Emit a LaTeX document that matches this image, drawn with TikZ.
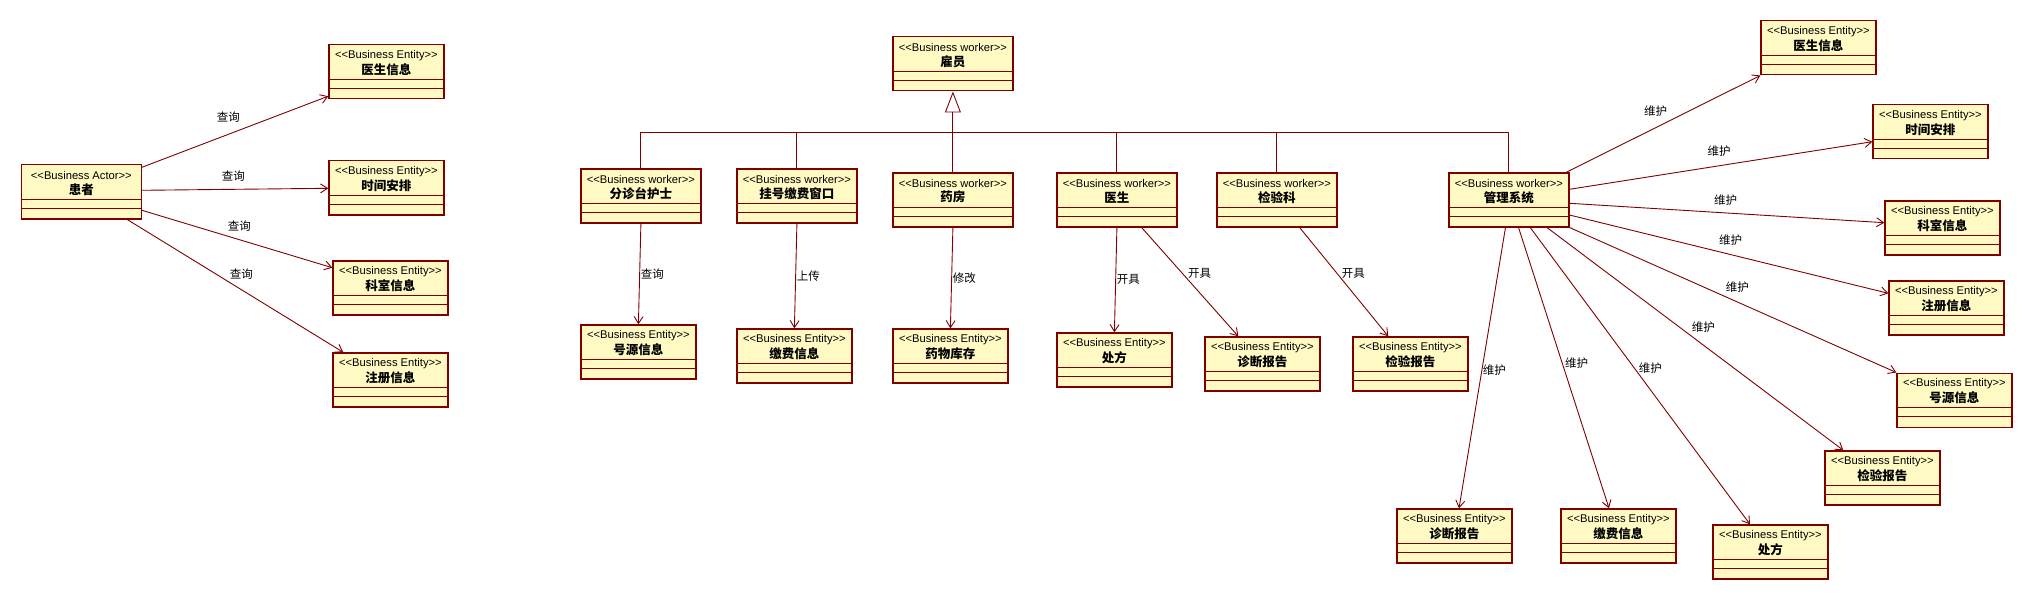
\documentclass[tikz,border=0pt]{standalone}
\usepackage{fontspec}
\setmainfont{Liberation Sans}
\newfontfamily\cjk{Noto Sans CJK SC}
\usetikzlibrary{arrows.meta}
\definecolor{lc}{RGB}{128,0,0}
\definecolor{fc}{RGB}{255,250,195}
\tikzset{
  umlbox/.style={draw=lc, fill=fc, line width=1.2pt, minimum height=54pt, inner sep=0pt, anchor=north west},
  stereo/.style={font=\fontsize{11.2}{12}\selectfont, inner sep=0pt},
  nm/.style={font=\cjk\bfseries\fontsize{12.5}{14}\selectfont, inner sep=0pt},
  lab/.style={font=\cjk\fontsize{11.5}{13}\selectfont, inner sep=0pt},
  conn/.style={draw=lc, line width=0.9pt, -{Straight Barb[length=7pt,width=9pt]}},
  gen/.style={draw=lc, line width=0.9pt, -{Triangle[open,length=21pt,width=16pt]}},
  busline/.style={draw=lc, line width=0.9pt},
}
\newcommand\mkbox[6]{%
  \node[umlbox, minimum width=#4pt] (#1) at (#2,#3) {};
  \draw[lc, line width=1.2pt] ([yshift=-35pt]#1.north west) -- ([yshift=-35pt]#1.north east)
       ([yshift=-44pt]#1.north west) -- ([yshift=-44pt]#1.north east);
  \node[stereo] (#1s) at ([yshift=-11.4pt]#1.north) {<{}<Business\hspace{3pt}#5>{}>};
  \node[nm] (#1n) at ([yshift=-25pt]#1.north) {#6};
}
\begin{document}
\begin{tikzpicture}[x=1pt,y=-1pt]
\fill[white] (0,0) rectangle (2032,599);
\useasboundingbox (0,0) rectangle (2032,599);
\coordinate (bus) at (0,132.3);
% left part
\mkbox{pa}{20.7}{164.3}{120}{Actor}{患者}
\mkbox{le1}{328.3}{44.3}{115}{Entity}{医生信息}
\mkbox{le2}{328.3}{160.3}{115}{Entity}{时间安排}
\mkbox{le3}{332.3}{260.3}{115}{Entity}{科室信息}
\mkbox{le4}{332.3}{352.3}{115}{Entity}{注册信息}
% middle workers
\mkbox{w0}{892.3}{36.3}{120}{worker}{雇员}
\mkbox{w1}{580.3}{168.3}{120}{worker}{分诊台护士}
\mkbox{w2}{736.3}{168.3}{120}{worker}{挂号缴费窗口}
\mkbox{w3}{892.3}{172.3}{120}{worker}{药房}
\mkbox{w4}{1056.3}{172.3}{120}{worker}{医生}
\mkbox{w5}{1216.3}{172.3}{120}{worker}{检验科}
\mkbox{ms}{1448.3}{172.3}{120}{worker}{管理系统}
% middle entities
\mkbox{m1}{580.3}{324.3}{115}{Entity}{号源信息}
\mkbox{m2}{736.3}{328.3}{115}{Entity}{缴费信息}
\mkbox{m3}{892.3}{328.3}{115}{Entity}{药物库存}
\mkbox{m4}{1056.3}{332.3}{115}{Entity}{处方}
\mkbox{m5}{1204.3}{336.3}{115}{Entity}{诊断报告}
\mkbox{m6}{1352.3}{336.3}{115}{Entity}{检验报告}
% right entities
\mkbox{r1}{1760.3}{20.3}{115}{Entity}{医生信息}
\mkbox{r2}{1872.3}{104.3}{115}{Entity}{时间安排}
\mkbox{r3}{1884.3}{200.3}{115}{Entity}{科室信息}
\mkbox{r4}{1888.3}{280.3}{115}{Entity}{注册信息}
\mkbox{r5}{1896.3}{372.5}{115}{Entity}{号源信息}
\mkbox{r6}{1824.3}{450.3}{115}{Entity}{检验报告}
\mkbox{r7}{1712.3}{524.3}{115}{Entity}{处方}
\mkbox{r8}{1560.3}{508.3}{115}{Entity}{缴费信息}
\mkbox{r9}{1396.3}{508.3}{115}{Entity}{诊断报告}
% left connectors
\draw[conn] ([yshift=-3pt]pa.north east) -- ([yshift=3.3pt]le1.south west);
\draw[conn] ([yshift=-26pt]pa.north east) -- ([yshift=-28pt]le2.north west);
\draw[conn] ([yshift=-46pt]pa.north east) -- ([yshift=-7.4pt]le3.north west);
\draw[conn] ([xshift=-14.7pt]pa.south east) -- ([xshift=11pt]le4.north west);
% generalisation bus
\draw[busline] (w1.north) -- (w1.north |- bus) -- (ms.north |- bus) -- (ms.north);
\draw[busline] (w2.north) -- (w2.north |- bus);
\draw[busline] (w4.north) -- (w4.north |- bus);
\draw[busline] (w5.north) -- (w5.north |- bus);
\draw[gen] (w3.north) -- (w0.south);
% middle connectors
\draw[conn] (w1.south) -- (m1.north);
\draw[conn] (w2.south) -- (m2.north);
\draw[conn] (w3.south) -- (m3.north);
\draw[conn] (w4.south) -- (m4.north);
\draw[conn] ([xshift=24.7pt]w4.south) -- ([xshift=-24.1pt]m5.north);
\draw[conn] ([xshift=22.7pt]w5.south) -- ([xshift=-22.1pt]m6.north);
% right connectors
\draw[conn] ([xshift=-3.3pt]ms.north east) -- (r1.south west);
\draw[conn] ([yshift=-17pt]ms.north east) -- ([yshift=-37.4pt]r2.north west);
\draw[conn] ([yshift=-31pt]ms.north east) -- ([yshift=-22.4pt]r3.north west);
\draw[conn] ([yshift=-42.7pt]ms.north east) -- ([yshift=-13pt]r4.north west);
\draw[conn] (ms.south east) -- (r5.north west);
\draw[conn] ([xshift=-22.6pt]ms.south east) -- ([xshift=19pt]r6.north west);
\draw[conn] ([xshift=-39.3pt]ms.south east) -- ([xshift=37.7pt]r7.north west);
\draw[conn] ([xshift=-51pt]ms.south east) -- ([xshift=48.7pt]r8.north west);
\draw[conn] ([xshift=-64pt]ms.south east) -- ([xshift=62.7pt]r9.north west);
% labels
\node[lab] (t1) at (228.3,117) {查询};
\node[lab] (t2) at (233.3,176) {查询};
\node[lab] (t3) at (239.3,226) {查询};
\node[lab] (t4) at (241.3,274) {查询};
\node[lab] (t5) at (652.3,274) {查询};
\node[lab] (t6) at (808.3,276) {上传};
\node[lab] (t7) at (964.3,278) {修改};
\node[lab] (t8) at (1128.3,279) {开具};
\node[lab] (t9) at (1199.7,273) {开具};
\node[lab] (t10) at (1353.3,273) {开具};
\node[lab] (t11) at (1655.7,111) {维护};
\node[lab] (t12) at (1719.2,151) {维护};
\node[lab] (t13) at (1725.7,200) {维护};
\node[lab] (t14) at (1730.7,240) {维护};
\node[lab] (t15) at (1737.3,287) {维护};
\node[lab] (t16) at (1703.3,327) {维护};
\node[lab] (t17) at (1650.3,368) {维护};
\node[lab] (t18) at (1576.7,363) {维护};
\node[lab] (t19) at (1494.3,370) {维护};
\end{tikzpicture}
\end{document}
